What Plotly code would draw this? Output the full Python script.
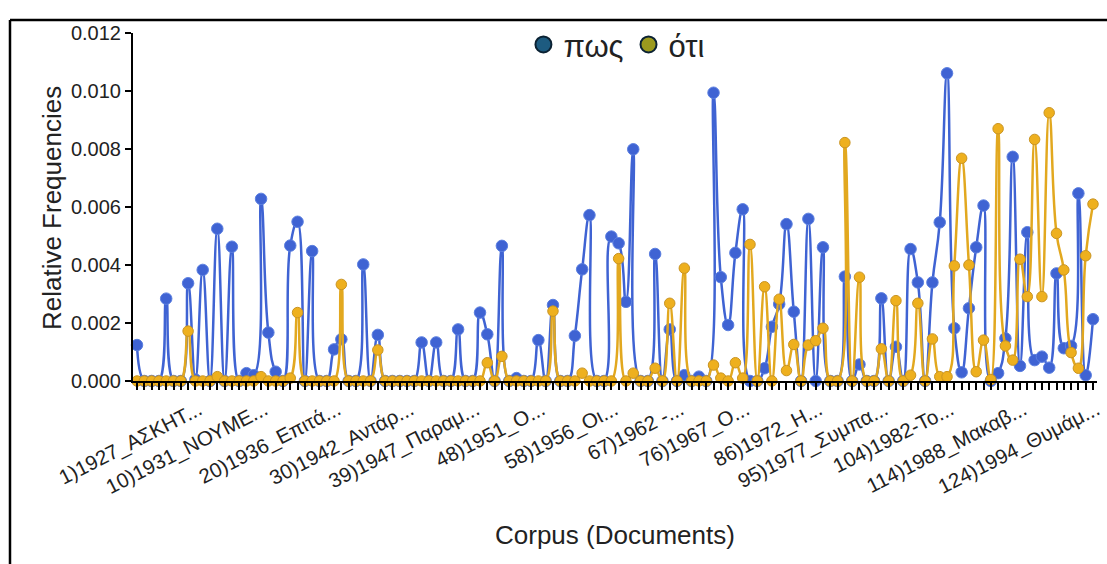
import plotly.graph_objects as go

# Document numbers (1..132)
docs = list(range(1, 133))

# Relative frequency of "πως" per document
pos_vals = [
    0.00124, 0, 0, 0, 0.00284, 0, 0, 0.00337, 0.00005, 0.00383,
    0, 0.00525, 0, 0.00463, 0, 0.00027, 0.00020, 0.00628, 0.00167, 0.00032,
    0, 0.00467, 0.00549, 0, 0.00448, 0, 0, 0.00109, 0.00144, 0,
    0, 0.00402, 0, 0.00159, 0, 0, 0, 0, 0, 0.00133,
    0, 0.00133, 0, 0, 0.00178, 0, 0, 0.00236, 0.00161, 0,
    0.00466, 0, 0.00010, 0, 0, 0.00141, 0, 0.00262, 0, 0,
    0.00156, 0.00385, 0.00572, 0, 0, 0.00498, 0.00475, 0.00273, 0.00799, 0,
    0, 0.00438, 0, 0.00178, 0, 0.00020, 0, 0.00015, 0, 0.00994,
    0.00358, 0.00193, 0.00442, 0.00592, 0, 0, 0.00044, 0.00187, 0.00265, 0.00541,
    0.00239, 0, 0.00559, 0, 0.00461, 0, 0, 0.00360, 0, 0.00057,
    0, 0, 0.00285, 0, 0.00118, 0, 0.00455, 0.00340, 0, 0.00340,
    0.00547, 0.01061, 0.00182, 0.00030, 0.00251, 0.00461, 0.00605, 0, 0.00027, 0.00147,
    0.00773, 0.00052, 0.00513, 0.00072, 0.00084, 0.00046, 0.00371, 0.00113, 0.00121, 0.00647,
    0.00020, 0.00213,
]

# Relative frequency of "ότι" per document
oti_vals = [
    0, 0, 0, 0, 0, 0, 0, 0.00172, 0, 0,
    0, 0.00015, 0, 0, 0, 0, 0, 0.00015, 0, 0,
    0, 0.00010, 0.00236, 0, 0, 0, 0, 0, 0.00333, 0,
    0, 0, 0, 0.00107, 0, 0, 0, 0, 0, 0,
    0, 0, 0, 0, 0, 0, 0, 0, 0.00063, 0,
    0.00085, 0, 0, 0, 0, 0, 0, 0.00241, 0, 0,
    0, 0.00027, 0, 0, 0, 0, 0.00422, 0, 0.00027, 0,
    0, 0.00044, 0, 0.00268, 0, 0.00389, 0, 0, 0, 0.00055,
    0.00010, 0, 0.00063, 0.00010, 0.00471, 0, 0.00325, 0, 0.00282, 0.00036,
    0.00126, 0, 0.00124, 0.00139, 0.00182, 0, 0, 0.00822, 0, 0.00358,
    0, 0, 0.00111, 0, 0.00277, 0, 0.00020, 0.00268, 0, 0.00145,
    0.00015, 0.00015, 0.00397, 0.00768, 0.00400, 0.00032, 0.00141, 0.00005, 0.00870, 0.00121,
    0.00072, 0.00420, 0.00291, 0.00833, 0.00291, 0.00925, 0.00509, 0.00383, 0.00098, 0.00044,
    0.00432, 0.00610,
]

# Tick labels shown on the x axis
label_docs = [1, 10, 20, 30, 39, 48, 58, 67, 76, 86, 95, 104, 114, 124]
label_texts = [
    "1)1927_ΑΣΚΗΤ...", "10)1931_ΝΟΥΜΕ...", "20)1936_Επιτά...", "30)1942_Αντάρ...",
    "39)1947_Παραμ...", "48)1951_Ο...", "58)1956_Οι...", "67)1962 -...",
    "76)1967_Ο...", "86)1972_Η...", "95)1977_Συμπα...", "104)1982-Το...",
    "114)1988_Μακαβ...", "124)1994_Θυμάμ...",
]
y_ticks = [0, 0.002, 0.004, 0.006, 0.008, 0.010, 0.012]

FONT = "Liberation Sans, Arial, sans-serif"
BLUE = "#3f63d3"
GOLD = "#e2a81f"

lab = dict(zip(label_docs, label_texts))
ticktext = [lab.get(d, "") for d in docs]

fig = go.Figure()
fig.add_trace(go.Scatter(
    x=docs, y=pos_vals, mode="lines+markers", name="πως", showlegend=False,
    line=dict(color=BLUE, width=2.5, shape="spline", smoothing=1.3),
    marker=dict(size=11.5, color=BLUE, line=dict(color="#5b7fe0", width=1)),
    cliponaxis=False,
))
fig.add_trace(go.Scatter(
    x=docs, y=oti_vals, mode="lines+markers", name="ότι", showlegend=False,
    line=dict(color=GOLD, width=2.5, shape="spline", smoothing=1.3),
    marker=dict(size=10.5, color="#eeb01e", line=dict(color="#c99422", width=1)),
    cliponaxis=False,
))
# legend entries
fig.add_trace(go.Scatter(
    x=[None], y=[None], mode="markers", name="πως",
    marker=dict(size=20, color="#1d5b80", line=dict(color="#0b2233", width=2)),
))
fig.add_trace(go.Scatter(
    x=[None], y=[None], mode="markers", name="ότι",
    marker=dict(size=20, color="#9b9a1e", line=dict(color="#0b2233", width=2)),
))

fig.update_layout(
    width=1107, height=564,
    margin=dict(l=133, r=10, t=33, b=183, autoexpand=False),
    paper_bgcolor="white", plot_bgcolor="white",
    font=dict(family=FONT, color="#222"),
    showlegend=True,
    legend=dict(orientation="h", x=0.502, xanchor="center", y=0.966, yanchor="middle",
                font=dict(size=31, color="#222"), itemwidth=30, bgcolor="rgba(0,0,0,0)",
                itemsizing="trace"),
    xaxis=dict(
        range=[0.45, 132.55], showgrid=False, zeroline=False, automargin=False,
        showline=True, linecolor="black", linewidth=2,
        tickmode="array", tickvals=docs, ticktext=ticktext,
        ticks="outside", ticklen=7, tickwidth=2, tickcolor="black",
        tickangle=-27, ticklabelshift=62, ticklabeloverflow="allow",
        tickfont=dict(size=20.5, color="#222", family=FONT),
    ),
    yaxis=dict(
        range=[0, 0.012], showgrid=False, zeroline=False, automargin=False,
        showline=True, linecolor="black", linewidth=2,
        tickmode="array", tickvals=y_ticks, tickformat=".3f",
        ticks="outside", ticklen=6, tickwidth=2, tickcolor="black",
        tickfont=dict(size=20, color="#222", family=FONT),
    ),
    annotations=[
        dict(text="Corpus (Documents)", xref="paper", yref="paper", x=0.5, y=-0.4425,
             xanchor="center", yanchor="middle", showarrow=False,
             font=dict(size=26, color="#222", family=FONT)),
        dict(text="Relative Frequencies", xref="paper", yref="paper", x=-0.084, y=0.497,
             xanchor="center", yanchor="middle", showarrow=False, textangle=-90,
             font=dict(size=26, color="#222", family=FONT)),
    ],
    shapes=[
        dict(type="line", xref="paper", yref="paper", x0=-0.1276, x1=-0.1276, y0=1.0374, y1=-0.6,
             line=dict(color="black", width=2.5)),
        dict(type="line", xref="paper", yref="paper", x0=-0.1276, x1=1.2, y0=1.0374, y1=1.0374,
             line=dict(color="black", width=2.5)),
    ],
)

fig.write_html("out.html")
